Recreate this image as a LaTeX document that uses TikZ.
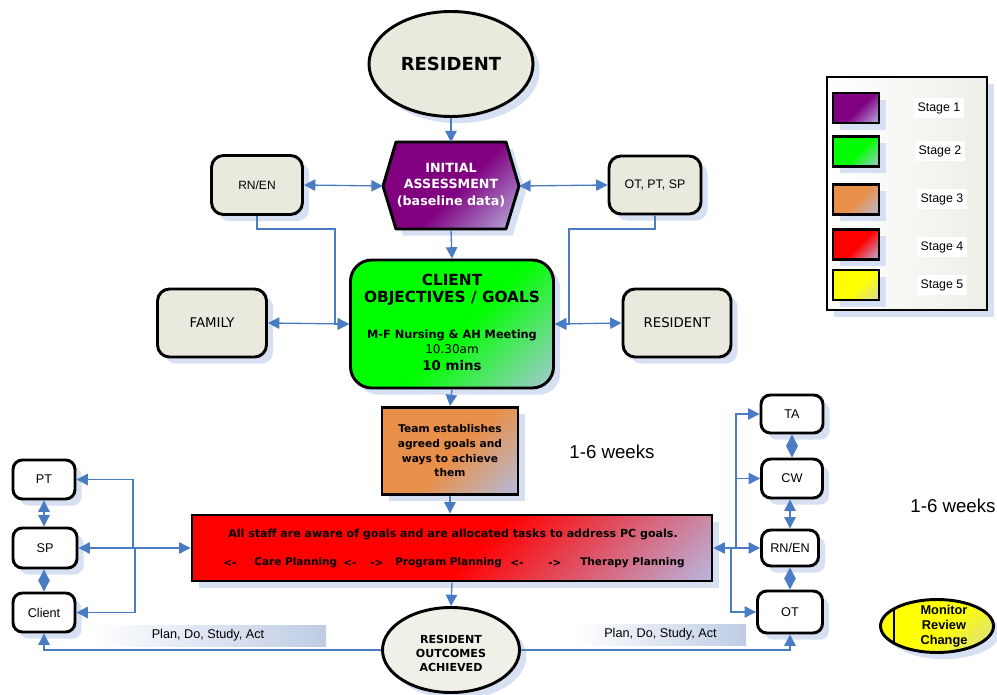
\documentclass[tikz,border=0pt]{standalone}
\usepackage{fontspec}
\setmainfont{Liberation Sans}
\newfontfamily\comic{DejaVu Sans}
\usetikzlibrary{arrows.meta,shapes.geometric,shadows}
\newdimen\pxu \pxu=0.75pt
\definecolor{connc}{RGB}{74,124,196}
\definecolor{beige}{RGB}{233,233,222}
\definecolor{lightbeige}{RGB}{240,240,232}
\definecolor{shadowc}{RGB}{214,224,242}
\definecolor{purp}{RGB}{128,0,128}
\definecolor{lav}{RGB}{184,176,222}
\definecolor{grn}{RGB}{0,255,0}
\definecolor{grnend}{RGB}{165,200,212}
\definecolor{orng}{RGB}{232,144,74}
\definecolor{bluegrey}{RGB}{180,188,220}
\definecolor{rd}{RGB}{255,0,0}
\definecolor{rdend}{RGB}{186,180,220}
\definecolor{yel}{RGB}{255,255,0}
\definecolor{yelend}{RGB}{215,220,150}
\definecolor{planc}{RGB}{190,204,228}
\definecolor{legc}{RGB}{238,238,232}
\newcommand\mkgrad[3]{\pgfdeclareverticalshading{#1}{100bp}{color(0bp)=(#3); color(15bp)=(#3); color(47bp)=(#2); color(100bp)=(#2)}}
\mkgrad{gpurp}{purp}{lav}
\mkgrad{ggrn}{grn}{grnend}
\mkgrad{gorng}{orng}{bluegrey}
\mkgrad{grd}{rd}{rdend}
\mkgrad{gyel}{yel}{yelend}
\tikzset{
 shad/.style={drop shadow={shadow xshift=5pt,shadow yshift=-5pt,fill=shadowc,opacity=1}},
 grad/.style={shading=#1,shading angle=45},
 bbox/.style={draw=black,line width=2.2pt,rounded corners=9pt,fill=beige,shad,inner sep=0pt},
 sbox/.style={draw=black,line width=2.2pt,rounded corners=7pt,fill=white,shad,inner sep=0pt,font=\fontsize{9.5}{11}\selectfont},
 conn/.style={draw=connc,line width=1pt},
 arr/.style={conn,-{Triangle[length=8.5pt,width=8.5pt]}},
 darr/.style={conn,{Triangle[length=8.5pt,width=8.5pt]}-{Triangle[length=8.5pt,width=8.5pt]}},
 swatch/.style={draw=black,line width=2.2pt,shad,minimum width=46\pxu,minimum height=30\pxu,inner sep=0pt},
 stagelbl/.style={fill=white,inner sep=3pt,font=\fontsize{9.3}{11}\selectfont},
 planlbl/.style={left color=white,right color=planc,inner sep=0pt,minimum height=21\pxu,font=\fontsize{9.5}{11}\selectfont},
 comicb/.style={font=\comic\bfseries\fontsize{#1}{#1}\selectfont},
}
\begin{document}
\begin{tikzpicture}[x=0.75pt,y=-0.75pt]
\useasboundingbox (0,0) rectangle (997,695);

% top ellipse
\node[ellipse,draw=black,line width=2.2pt,fill=beige,shad,minimum width=164\pxu,minimum height=105\pxu,font=\comic\bfseries\fontsize{13.5}{16}\selectfont] (res) at (451,64) {RESIDENT};

% hexagon
\node[minimum width=136\pxu,minimum height=87\pxu,inner sep=0pt] (init) at (451,186) {};
\path[draw=black,line width=2.2pt,line join=round,grad=gpurp,shad] (396,142) -- (506,142) -- (519,186) -- (506,229) -- (396,229) -- (383,186) -- cycle;
\node[text=white,align=center,font=\comic\bfseries\fontsize{9.5}{12.5}\selectfont] (initt) at (451,185) {INITIAL\\ASSESSMENT\\(baseline data)};

\node[bbox,minimum width=91\pxu,minimum height=59\pxu,font=\fontsize{9}{11}\selectfont] (rn1) at (257,185) {RN/EN};
\node[bbox,minimum width=92\pxu,minimum height=58\pxu,font=\fontsize{9.3}{11}\selectfont] (otp) at (655,185) {OT, PT, SP};

% goals
\node[draw=black,line width=2.2pt,rounded corners=16pt,grad=ggrn,shad,minimum width=203\pxu,minimum height=128\pxu] (goals) at (452,324) {};
\node[align=center,font=\comic\bfseries\fontsize{11.5}{12.75}\selectfont] (g1) at (452,290) {CLIENT\\OBJECTIVES / GOALS};
\node[comicb=8.5] (g2) at (452,335) {M-F Nursing \& AH Meeting};
\node[font=\comic\fontsize{9}{10}\selectfont] (g3) at (452,349) {10.30am};
\node[comicb=10] (g4) at (452,366) {10 mins};

\node[bbox,minimum width=109\pxu,minimum height=68\pxu,font=\comic\fontsize{10}{12}\selectfont] (fam) at (212,323) {FAMILY};
\node[bbox,minimum width=108\pxu,minimum height=68\pxu,font=\comic\fontsize{10}{12}\selectfont] (res2) at (677,323) {RESIDENT};

% team
\node[draw=black,line width=2.2pt,grad=gorng,shad,minimum width=136\pxu,minimum height=87\pxu,align=center,font=\comic\bfseries\fontsize{8}{11}\selectfont] (team) at (450,451) {Team establishes\\agreed goals and\\ways to achieve\\them};

% staff
\node[draw=black,line width=2.2pt,grad=grd,shad,minimum width=520\pxu,minimum height=66\pxu] (staff) at (452,548) {};
\node[comicb=8.3] (s1) at (453,534) {All staff are aware of goals and are allocated tasks to address PC goals.};
\begin{scope}[every node/.style={comicb=7.9,anchor=west,inner sep=0pt}]
\node (s2) at (223,563) {<-};
\node (s3) at (254,563) {Care Planning};
\node (s4) at (343,563) {<-};
\node (s5) at (370,563) {->};
\node (s6) at (395,563) {Program Planning};
\node (s7) at (510,563) {<-};
\node (s8) at (548,563) {->};
\node (s9) at (580,563) {Therapy Planning};
\end{scope}

% outcomes
\node[ellipse,draw=black,line width=2.2pt,fill=lightbeige,shad,minimum width=137\pxu,minimum height=85\pxu] (outc) at (451,650) {};
\node[align=center,font=\comic\bfseries\fontsize{8.3}{10.5}\selectfont] (outct) at (451,653) {RESIDENT\\OUTCOMES\\ACHIEVED};

% left column
\node[sbox,minimum width=62\pxu,minimum height=39\pxu] (nPT) at (44,479.5) {PT};
\node[sbox,minimum width=64\pxu,minimum height=40\pxu] (nSP) at (45,548) {SP};
\node[sbox,minimum width=62\pxu,minimum height=39\pxu] (nCl) at (44,612.5) {Client};

% right column
\node[sbox,minimum width=62\pxu,minimum height=38\pxu] (nTA) at (792,414) {TA};
\node[sbox,minimum width=61\pxu,minimum height=39\pxu] (nCW) at (792,478.5) {CW};
\node[sbox,minimum width=57\pxu,minimum height=36\pxu] (nRN) at (790,548) {RN/EN};
\node[sbox,minimum width=65\pxu,minimum height=42\pxu] (nOT) at (790,612) {OT};

% plan labels
\node[planlbl,minimum width=236\pxu] (plan1) at (208,635.5) {Plan, Do, Study, Act};
\node[planlbl,minimum width=171\pxu] (plan2) at (660.5,634.5) {Plan, Do, Study, Act};

% weeks
\node[font=\fontsize{14}{16}\selectfont] (w1) at (612,452) {1-6 weeks};
\node[font=\fontsize{14}{16}\selectfont] (w2) at (953,506) {1-6 weeks};

% legend
\node[draw=black,line width=2pt,left color=white,right color=legc,shad,minimum width=160\pxu,minimum height=233\pxu] (legend) at (907,193.5) {};
\node[swatch,grad=gpurp] (sw1) at (856,108) {};
\node[swatch,grad=ggrn] (sw2) at (856,151.5) {};
\node[swatch,grad=gorng] (sw3) at (856,199.5) {};
\node[swatch,grad=grd] (sw4) at (856,244.5) {};
\node[swatch,grad=gyel] (sw5) at (856,285) {};
\node[stagelbl] (l1) at (939,108) {Stage 1};
\node[stagelbl] (l2) at (940,151) {Stage 2};
\node[stagelbl] (l3) at (942,199) {Stage 3};
\node[stagelbl] (l4) at (942,247) {Stage 4};
\node[stagelbl] (l5) at (942,285) {Stage 5};

% monitor
\node[ellipse,draw=black,line width=2.2pt,grad=gyel,shad,minimum width=113\pxu,minimum height=53\pxu] (mon) at (937,626) {};
\draw[line width=2.2pt] (894,609) -- (894,643);
\node[align=center,font=\bfseries\fontsize{9.6}{11.25}\selectfont] (mont) at (944,626) {Monitor\\Review\\Change};

% connectors
\coordinate (j1) at (335,229);
\coordinate (j2) at (569,229);
\coordinate (jl) at (133,548);
\coordinate (jl2) at (135,548);
\coordinate (jr) at (736,548);
\coordinate (jr2) at (731,548);

\draw[arr] (res.south) -- (init.north);
\draw[darr] (rn1.east) -- (init.west);
\draw[darr] (init.east) -- (otp.west);
\draw[arr] (rn1.south) |- (j1) |- (goals.west);
\draw[arr] (otp.south) |- (j2) |- (goals.east);
\draw[darr] (fam.east) -- (goals.west);
\draw[darr] (goals.east) -- (res2.west);
\draw[arr] (init.south) -- (goals.north);
\draw[arr] (goals.south) -- (team.north);
\draw[arr] (team.south) -- (team.south |- staff.north);
\draw[arr] (staff.south) -- (outc.north);

\draw[arr] (jl) -- (staff.west);
\draw[arr] (jl) |- (nPT.east);
\draw[arr] (jl) -- (nSP.east);
\draw[arr] (jl2) |- (nCl.east);
\draw[darr] (nPT.south) -- (nPT.south |- nSP.north);
\draw[darr] (nCl.north) -- (nCl.north |- nSP.south);

\draw[arr] (jr) -- (staff.east);
\draw[arr] (jr) |- (nTA.west);
\draw[arr] (jr) |- (nCW.west);
\draw[arr] (jr) -- (nRN.west);
\draw[arr] (jr2) |- (nOT.west);
\draw[darr] (nTA.south) -- (nTA.south |- nCW.north);
\draw[darr] (nRN.north) -- (nRN.north |- nCW.south);
\draw[darr] (nRN.south) -- (nRN.south |- nOT.north);

\draw[arr] (outc.west) -| (nCl.south);
\draw[arr] (outc.east) -| (nOT.south);
\end{tikzpicture}
\end{document}
